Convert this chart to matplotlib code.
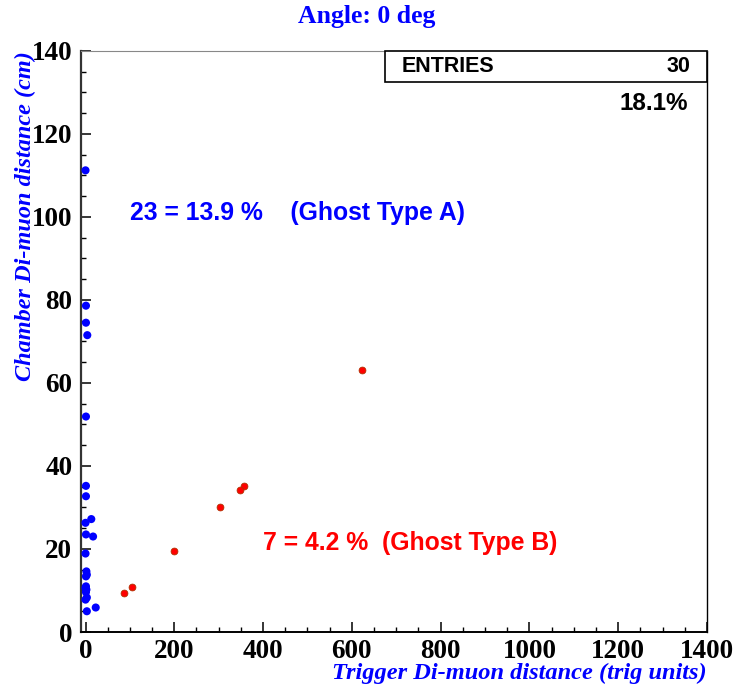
import numpy as np
import matplotlib.pyplot as plt
from matplotlib.ticker import MultipleLocator
from matplotlib.patches import Rectangle

# ghost type A: trigger distance ~0, chamber distance spread out
trig_a = [0, 1, 1, 4, 1, 1, 1, 13, 0, 1, 17, 0, 2, 3, 1, 1, 0, 2, 1, 3, 0, 23, 3]
cham_a = [111.2, 78.6, 74.5, 71.5, 51.9, 35.2, 32.7, 27.2, 26.3, 23.5, 23.0, 18.9,
          14.6, 13.8, 13.4, 11.0, 10.6, 10.2, 9.6, 8.3, 7.8, 5.9, 5.0]

# ghost type B: both distances grow together
trig_b = [622, 357, 349, 303, 199, 104, 87]
cham_b = [63.0, 35.2, 34.2, 30.1, 19.6, 10.9, 9.3]

n_entries = 30
total_pct = "18.1%"
label_a = "23 = 13.9 %    (Ghost Type A)"
label_b = "7 = 4.2 %  (Ghost Type B)"

serif = ["Liberation Serif", "DejaVu Serif"]
sans = ["Liberation Sans", "DejaVu Sans"]

fig = plt.figure(figsize=(7.33, 6.86), dpi=100)
ax = fig.add_axes([0.110, 0.0787, 0.8545, 0.8473])

ax.scatter(trig_a, cham_a, s=34, color="#0000ff", edgecolors="none", zorder=3)
ax.scatter(trig_b, cham_b, s=24, color="#ff0000", edgecolors="#b03000",
           linewidths=0.6, zorder=3)

ax.set_xlim(-11, 1400)
ax.set_ylim(0, 140)
ax.xaxis.set_major_locator(MultipleLocator(200))
ax.xaxis.set_minor_locator(MultipleLocator(50))
ax.yaxis.set_major_locator(MultipleLocator(20))
ax.yaxis.set_minor_locator(MultipleLocator(5))
ax.tick_params(which="both", direction="in", top=False, right=False)
ax.tick_params(which="major", length=7.2, width=1.1)
ax.tick_params(which="minor", length=3.6, width=1.0)
ax.tick_params(axis="x", pad=5)
ax.tick_params(axis="y", pad=6)
for lbl in ax.get_xticklabels() + ax.get_yticklabels():
    lbl.set_fontfamily(serif)
    lbl.set_fontweight("bold")
    lbl.set_fontsize(19.5)

ax.spines["left"].set_color("#333333")
ax.spines["left"].set_linewidth(1.6)
ax.spines["bottom"].set_linewidth(1.4)
ax.spines["top"].set_color("#888888")
ax.spines["top"].set_linewidth(0.8)
ax.spines["right"].set_linewidth(1.0)

ax.set_xlabel("Trigger Di-muon distance (trig units)", loc="right",
              family=serif, fontweight="bold", style="italic", fontsize=17.6,
              color="#0000ff", labelpad=-0.5)
ax.set_ylabel("Chamber Di-muon distance (cm)", loc="top",
              family=serif, fontweight="bold", style="italic", fontsize=17.5,
              color="#0000ff", labelpad=-3)

fig.text(0.5, 1 - 16 / 686, "Angle: 0 deg", ha="center", va="center",
         family=serif, fontweight="bold", fontsize=18.5, color="#0000ff")

# stats box in the top right corner
ax.add_patch(Rectangle((0.486, 0.946), 0.514, 0.054, transform=ax.transAxes,
                       facecolor="white", edgecolor="black", linewidth=1.2,
                       zorder=4, clip_on=False))
ax.text(0.513, 0.973, "ENTRIES", transform=ax.transAxes, ha="left", va="center",
        family=sans, fontweight="bold", fontsize=15.5, zorder=5)
ax.text(0.973, 0.973, str(n_entries), transform=ax.transAxes, ha="right",
        va="center", family=sans, fontweight="bold", fontsize=15.5, zorder=5)
ax.text(0.970, 0.910, total_pct, transform=ax.transAxes, ha="right",
        va="center", family=sans, fontweight="bold", fontsize=17.5, zorder=5)

ax.text(100, 101.0, label_a, ha="left", va="center", family=sans,
        fontweight="bold", fontsize=17.8, color="#0000ff")
ax.text(400, 21.4, label_b, ha="left", va="center", family=sans,
        fontweight="bold", fontsize=17.8, color="#ff0000")

fig.savefig("out.png", dpi=100)
